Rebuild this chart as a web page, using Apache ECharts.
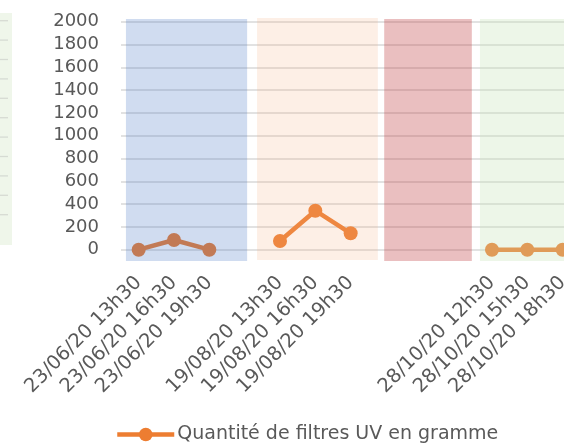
<!DOCTYPE html>
<html>
<head>
<meta charset="utf-8">
<script src="https://cdn.jsdelivr.net/npm/echarts@6/dist/echarts.min.js"></script>
<style>
html,body{margin:0;padding:0;background:#fff;overflow:hidden;width:564px;height:447px;}
#chart{width:600px;height:447px;}
</style>
</head>
<body>
<div id="chart"></div>
<script>
// Categories (blank entries are empty slots on the axis)
var categories = ['23/06/20 13h30','23/06/20 16h30','23/06/20 19h30','',
                  '19/08/20 13h30','19/08/20 16h30','19/08/20 19h30','','','',
                  '28/10/20 12h30','28/10/20 15h30','28/10/20 18h30'];
// Quantité de filtres UV en gramme
var values = [0, 85, 0, null, 76, 342, 144, null, null, null, 0, 0, 0];
var seriesName = 'Quantité de filtres UV en gramme';
var yTicks = {min: 0, max: 2000, interval: 200};
// Coloured period bands: [xStart, xEnd, yBottom, yTop] in category / value units
var bandX0 = [0.14, 3.85, 7.45, 10.16];
var bandX1 = [3.57, 7.27, 9.93, 13.6];
var bandY0 = [-99, -90, -99, -99];
var bandY1 = [2024, 2032, 2024, 2024];
var bandColors = ['rgba(68,114,196,0.25)','rgba(244,177,131,0.2)','rgba(190,60,65,0.33)','rgba(197,224,180,0.3)'];

var bandData = bandX0.map(function(x0, i){ return [x0, bandX1[i], bandY0[i], bandY1[i], i]; });

var chart = echarts.init(document.getElementById('chart'), null, {renderer:'canvas'});
var txt = '#595959';
var stubs = [];
for (var k = 0; k < 11; k++) {
  stubs.push({type:'line', shape:{x1:0, y1:20.7 + k*19.4, x2:8, y2:20.7 + k*19.4},
              style:{stroke:'#D6DBD3', lineWidth:1.3}, z:1, silent:true});
}
chart.setOption({
  animation: false,
  backgroundColor: '#ffffff',
  grid: {left: 121, top: 21.7, width: 459.3, height: 228, containLabel: false, outerBoundsMode: 'none'},
  legend: {
    left: 110, top: 420,
    itemWidth: 57, itemHeight: 17, itemGap: 4,
    lineStyle: {width: 4.5},
    textStyle: {color: txt, fontSize: 19, fontFamily: 'DejaVu Sans', padding:[0,0,0,-2]},
    data: [seriesName]
  },
  xAxis: [{
    type: 'category', data: categories, boundaryGap: true,
    axisLine: {show: false}, axisTick: {show: false},
    axisLabel: {rotate: 45, interval: 0, color: txt, fontSize: 19.5, fontFamily: 'DejaVu Sans', margin: 30}
  },{
    type: 'value', min: 0, max: 13, show: false
  }],
  yAxis: {
    type: 'value', min: yTicks.min, max: yTicks.max, interval: yTicks.interval,
    axisLine: {show: false}, axisTick: {show: false},
    axisLabel: {color: txt, fontSize: 18, fontFamily: 'DejaVu Sans', margin: 22,
                formatter: function(v){ return String(v); }},
    splitLine: {lineStyle: {color: '#D9D9D9', width: 1.5}}
  },
  graphic: [
    {type:'rect', left:0, top:13, shape:{x:0,y:0,width:12,height:232}, style:{fill:'#EFF6EA'}, z:0}
  ].concat(stubs),
  series: [{
    name: seriesName, type: 'line', data: values, connectNulls: false,
    symbol: 'circle', symbolSize: 14,
    lineStyle: {color: '#ED7D31', width: 4.5},
    itemStyle: {color: '#ED7D31'},
    z: 2
  },{
    type: 'custom', xAxisIndex: 1, yAxisIndex: 0, clip: false, z: 5, silent: true,
    data: bandData,
    renderItem: function(params, api){
      var p0 = api.coord([api.value(0), api.value(3)]);
      var p1 = api.coord([api.value(1), api.value(2)]);
      return {type:'rect', shape:{x:p0[0], y:p0[1], width:p1[0]-p0[0], height:p1[1]-p0[1]},
              style:{fill: bandColors[api.value(4)]}};
    }
  }]
});
</script>
</body>
</html>
